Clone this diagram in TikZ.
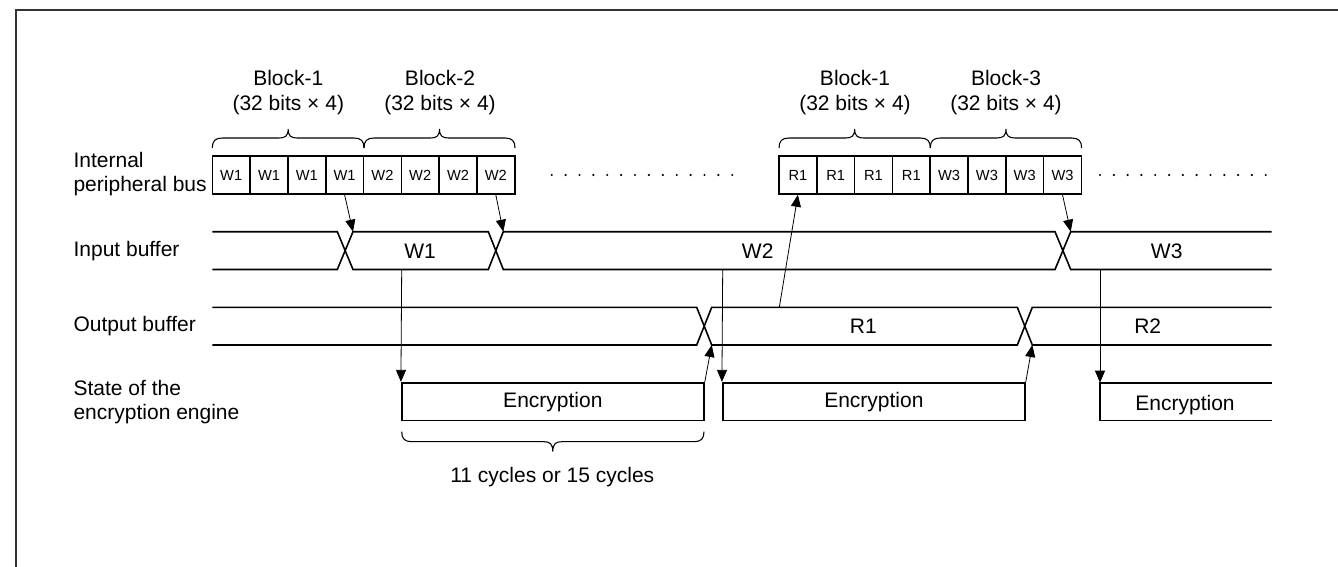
\documentclass[tikz,border=0pt]{standalone}
\usepackage{fontspec}
\setmainfont{Liberation Sans}
\usetikzlibrary{arrows.meta}
\newcommand{\topbrace}[2]{%
  \draw[brc] (#1,148) .. controls (#1,141) and (#1+3,138) .. (#1+10,138)
    -- ({(#1+#2)/2-9},138) .. controls ({(#1+#2)/2-3},138) and ({(#1+#2)/2},136) .. ({(#1+#2)/2},129)
    .. controls ({(#1+#2)/2},136) and ({(#1+#2)/2+3},138) .. ({(#1+#2)/2+9},138)
    -- (#2-10,138) .. controls (#2-3,138) and (#2,141) .. (#2,148);}
\begin{document}
\begin{tikzpicture}[x=0.75pt,y=-0.75pt,
  lbl/.style={font=\fontsize{15.75}{18}\selectfont, inner sep=0pt, align=left},
  blk/.style={font=\fontsize{15.75}{18.75}\selectfont, align=center, inner sep=0pt},
  buscell/.style={draw, line width=1.2pt, minimum width=28.35pt, minimum height=28.5pt, inner sep=0pt, font=\fontsize{11}{13}\selectfont},
  sig/.style={line width=1.2pt, line join=miter},
  encbox/.style={draw, line width=1.2pt, minimum width=226.7pt, minimum height=28.35pt, inner sep=0pt, font=\fontsize{15.75}{18}\selectfont},
  arr/.style={line width=0.6pt, -{Triangle[length=9pt,width=7.5pt]}},
  brc/.style={line width=0.8pt},
  frameline/.style={line width=1.5pt, draw=black!80}
]
\useasboundingbox (0,0) rectangle (1338,567);
\draw[frameline] (16,567) -- (16,10) -- (1338,10);

% block labels
\node[blk] (b1) at (288.3,92.5) {Block-1\\(32 bits × 4)};
\node[blk] (b2) at (440,92.5) {Block-2\\(32 bits × 4)};
\node[blk] (b3) at (855,92.5) {Block-1\\(32 bits × 4)};
\node[blk] (b4) at (1006,92.5) {Block-3\\(32 bits × 4)};
\topbrace{212.3}{364}
\topbrace{364}{515}
\topbrace{779}{930.3}
\topbrace{930.3}{1081.6}

% bus cells
\foreach \i/\t in {1/W1,2/W1,3/W1,4/W1,5/W2,6/W2,7/W2,8/W2}
  \node[buscell] (c\i) at ({212.3+37.8*(\i-0.5)},175) {\t};
\foreach \i/\t in {1/R1,2/R1,3/R1,4/R1,5/W3,6/W3,7/W3,8/W3}
  \node[buscell] (d\i) at ({779+37.8*(\i-0.5)},175) {\t};
\foreach \k in {0,...,13} \fill ({551.7+13.89*\k},175) circle (0.9pt);
\foreach \k in {0,...,12} \fill ({1100+13.81*\k},175) circle (0.9pt);

% row labels
\node[lbl, anchor=west] (lbus) at (73.3,174) {Internal\\peripheral bus};
\node[lbl, anchor=west] (lin) at (73.3,250.6) {Input buffer};
\node[lbl, anchor=west] (lout) at (73.3,326.2) {Output buffer};
\node[lbl, anchor=west] (lst) at (73.3,401.6) {State of the\\encryption engine};

% input buffer
\draw[sig] (212.3,231.7) -- (337.3,231.7) -- (353,269.5) -- (488.3,269.5) -- (503.3,231.7) -- (1055,231.7) -- (1070.7,269.5) -- (1271.7,269.5);
\draw[sig] (212.3,269.5) -- (337.3,269.5) -- (353,231.7) -- (488.3,231.7) -- (503.3,269.5) -- (1055,269.5) -- (1070.7,231.7) -- (1271.7,231.7);
\node[lbl] (tw1) at (420,251) {W1};
\node[lbl] (tw2) at (757.7,251) {W2};
\node[lbl] (tw3) at (1166.7,251) {W3};

% output buffer
\draw[sig] (212.3,307.3) -- (696.7,307.3) -- (711.7,345) -- (1017.3,345) -- (1032.3,307.3) -- (1271.7,307.3);
\draw[sig] (212.3,345) -- (696.7,345) -- (711.7,307.3) -- (1017.3,307.3) -- (1032.3,345) -- (1271.7,345);
\node[lbl] (tr1) at (863.3,326.5) {R1};
\node[lbl] (tr2) at (1147.7,326.5) {R2};

% encryption engine
\node[encbox] (e1) at (552.85,401.6) {Encryption};
\node[encbox] (e2) at (873.85,401.6) {Encryption};
\draw[sig] (1271.7,382.7) -- (1100,382.7) -- (1100,420.5) -- (1271.7,420.5);
\node[lbl] (e3) at (1185,405) {Encryption};

% coordinates
\coordinate (ix1) at (353,231.7);
\coordinate (ix2) at (503.3,231.7);
\coordinate (ix3) at (1070.7,231.7);
\coordinate (iw1) at (401.7,269.5);
\coordinate (iw2) at (722.7,269.5);
\coordinate (iw3) at (1100,269.5);
\coordinate (ox1) at (711.7,345);
\coordinate (ox2) at (1032.3,345);
\coordinate (or1) at (779.3,307.3);
\coordinate (e3nw) at (1100,382.7);

% arrows
\draw[arr] (c4.south) -- (ix1);
\draw[arr] (c8.south) -- (ix2);
\draw[arr] (d8.south) -- (ix3);
\draw[arr] (iw1) -- (e1.north west);
\draw[arr] (iw2) -- (e2.north west);
\draw[arr] (iw3) -- (e3nw);
\draw[arr] (e1.north east) -- (ox1);
\draw[arr] (e2.north east) -- (ox2);
\draw[arr] (or1) -- (d1.south);

% bottom brace
\draw[brc] (401.7,431.7) .. controls (401.7,438.7) and (404.7,441.7) .. (411.7,441.7)
  -- (543.8,441.7) .. controls (549.8,441.7) and (552.8,443.7) .. (552.8,451.7)
  .. controls (552.8,443.7) and (555.8,441.7) .. (561.8,441.7)
  -- (694,441.7) .. controls (701,441.7) and (704,438.7) .. (704,431.7);
\node[lbl] (cyc) at (552.3,476.7) {11 cycles or 15 cycles};
\end{tikzpicture}
\end{document}
